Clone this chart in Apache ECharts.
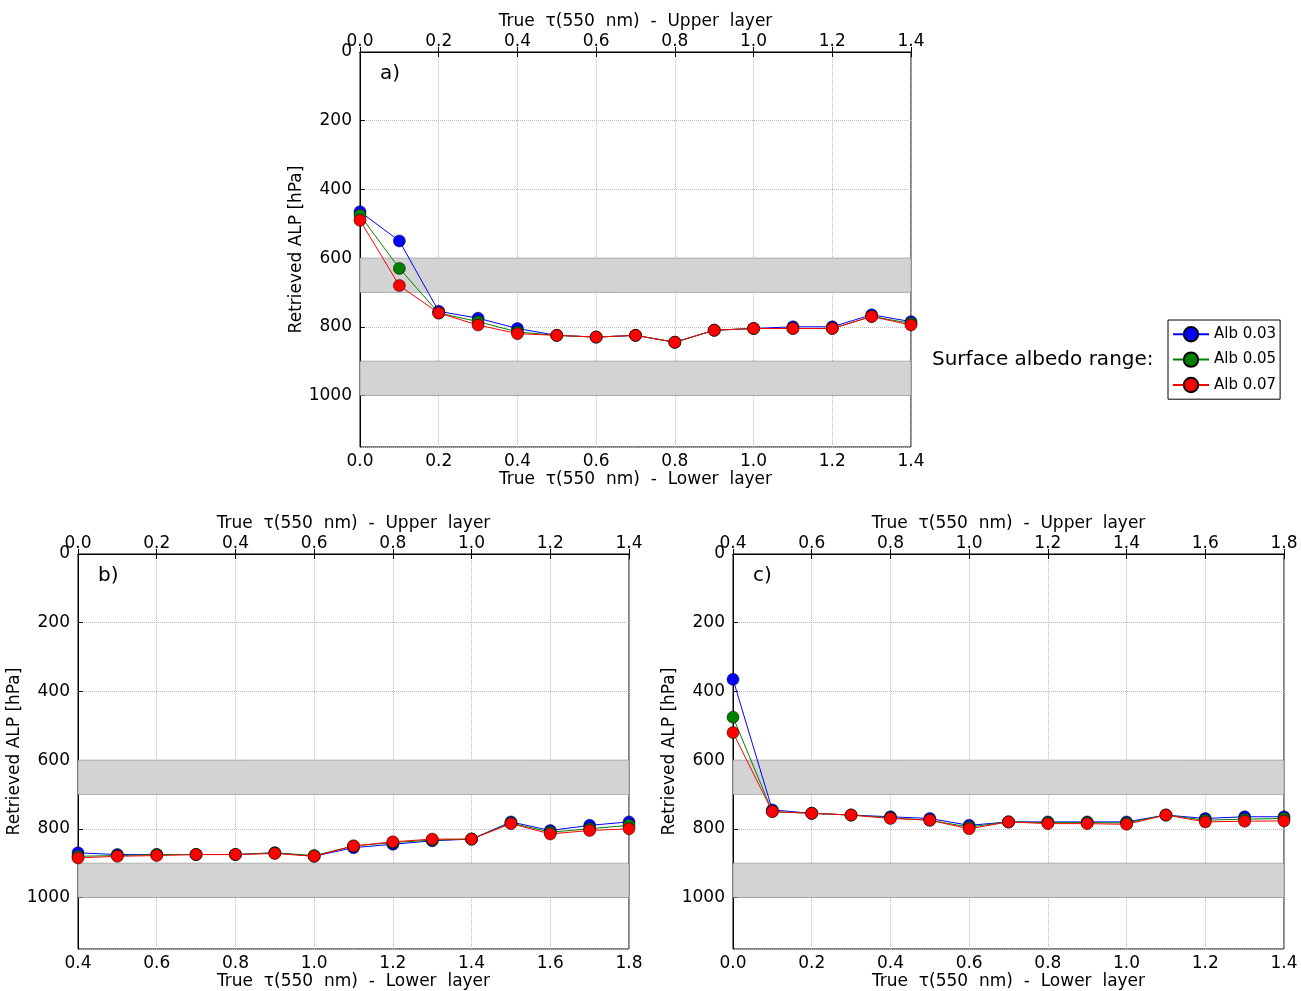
<!DOCTYPE html>
<html>
<head>
<meta charset="UTF-8">
<title></title>
<style>html,body{margin:0;background:#fff}#charts{width:1301px;height:991px;}</style>
</head>
<body>
<div id="charts"></div>
<script src="https://cdn.jsdelivr.net/npm/echarts@6/dist/echarts.min.js"></script>
<script>
var seriesNames = ['Alb 0.03', 'Alb 0.05', 'Alb 0.07'];
var colors = ['#0000ff', '#008000', '#ff0000'];

// panel a: lower 0.0..1.4, upper 0.0..1.4
var aLower = [0.0,0.1,0.2,0.3,0.4,0.5,0.6,0.7,0.8,0.9,1.0,1.1,1.2,1.3,1.4];
var aBlue  = [465,550,755,775,805,825,830,825,845,810,805,800,800,765,785];
var aGreen = [475,630,760,785,815,825,830,825,845,810,805,805,805,770,790];
var aRed   = [490,680,760,795,820,825,830,825,845,810,805,805,805,770,795];

// panel b: lower 0.4..1.8, upper 0.0..1.4
var bLower = [0.4,0.5,0.6,0.7,0.8,0.9,1.0,1.1,1.2,1.3,1.4,1.5,1.6,1.7,1.8];
var bBlue  = [870,875,875,875,875,870,880,855,845,835,830,780,805,790,780];
var bGreen = [880,878,875,875,875,870,878,850,840,833,830,783,810,800,790];
var bRed   = [885,880,878,875,875,872,880,850,838,830,830,785,815,805,800];

// panel c: lower 0.0..1.4, upper 0.4..1.8
var cLower = [0.0,0.1,0.2,0.3,0.4,0.5,0.6,0.7,0.8,0.9,1.0,1.1,1.2,1.3,1.4];
var cBlue  = [365,745,755,760,765,770,790,780,780,780,780,760,770,765,765];
var cGreen = [475,750,755,760,768,775,795,780,782,782,783,760,775,772,770];
var cRed   = [520,750,755,760,770,775,800,780,785,785,787,760,780,778,777];

var bands = [[600,700],[900,1000]];

var panels = [
  {left:360, top:52, lower:[0,1.4], upper:[0,1.4], x:aLower, ys:[aBlue,aGreen,aRed], tag:'a)'},
  {left:78, top:554, lower:[0.4,1.8], upper:[0,1.4], x:bLower, ys:[bBlue,bGreen,bRed], tag:'b)'},
  {left:733, top:554, lower:[0,1.4], upper:[0.4,1.8], x:cLower, ys:[cBlue,cGreen,cRed], tag:'c)'}
];

var font = 'DejaVu Sans';
var grids = [], xAxes = [], yAxes = [], series = [], graphics = [];
panels.forEach(function (p, i) {
  grids.push({left:p.left, top:p.top, width:551, height:395, show:true, borderColor:'#000', borderWidth:1});
  var common = {type:'value', gridIndex:i, interval:0.2,
    axisLine:{lineStyle:{color:'#000'}}, axisTick:{inside:true, lineStyle:{color:'#000'}},
    axisLabel:{color:'#000', fontSize:17, fontFamily:font, formatter:function(v){return v.toFixed(1);}},
    nameLocation:'middle', nameTextStyle:{color:'#000', fontSize:17, fontFamily:font}};
  xAxes.push(Object.assign({}, common, {position:'bottom', min:p.lower[0], max:p.lower[1],
    name:'True  \u03c4(550  nm)  -  Lower  layer', nameGap:24, axisLabel:Object.assign({}, common.axisLabel, {margin:6}),
    splitLine:{show:true, lineStyle:{color:'#bbb', type:'dotted'}}}));
  xAxes.push(Object.assign({}, common, {position:'top', min:p.upper[0], max:p.upper[1],
    name:'True  \u03c4(550  nm)  -  Upper  layer', nameGap:22, axisLabel:Object.assign({}, common.axisLabel, {margin:2}),
    splitLine:{show:false}}));
  yAxes.push({type:'value', gridIndex:i, inverse:true, min:0, max:1150, interval:200,
    axisLine:{lineStyle:{color:'#000'}}, axisTick:{inside:true, lineStyle:{color:'#000'}},
    axisLabel:{color:'#000', fontSize:17, fontFamily:font, showMaxLabel:false, formatter:function(v){return String(v);}},
    splitLine:{show:true, lineStyle:{color:'#bbb', type:'dotted'}},
    name:'Retrieved ALP [hPa]', nameLocation:'middle', nameGap:48,
    nameTextStyle:{color:'#000', fontSize:17, fontFamily:font}});
  p.ys.forEach(function (ys, k) {
    var s = {name:seriesNames[k], type:'line', xAxisIndex:i*2, yAxisIndex:i,
      data:p.x.map(function (x, j) { return [x, ys[j]]; }),
      symbol:'circle', symbolSize:12, itemStyle:{color:colors[k], borderColor:'#000', borderWidth:0.5},
      lineStyle:{color:colors[k], width:1}, z:3+k, animation:false};
    if (k === 0) {
      s.markArea = {silent:true, itemStyle:{color:'#d3d3d3', borderColor:'#777', borderWidth:0.5, opacity:1},
        data:bands.map(function (b) { return [{yAxis:b[0]}, {yAxis:b[1]}]; })};
    }
    series.push(s);
  });
  graphics.push({type:'text', left:p.left + 20, top:p.top + 12,
    style:{text:p.tag, fontSize:20, fontFamily:font, fill:'#000'}});
});
graphics.push({type:'text', left:932, top:350,
  style:{text:'Surface albedo range:', fontSize:20, fontFamily:font, fill:'#000'}});

var mycharts = echarts.init(document.getElementById('charts'));
mycharts.setOption({
  animation:false,
  grid:grids, xAxis:xAxes, yAxis:yAxes, series:series, graphic:graphics,
  legend:{data:seriesNames, orient:'vertical', left:1168, top:320, padding:[6,4,6,4],
    borderColor:'#000', borderWidth:1, itemGap:9, itemWidth:36, itemHeight:18,
    textStyle:{fontSize:15, fontFamily:font, color:'#000'}}
});
</script>
</body>
</html>
